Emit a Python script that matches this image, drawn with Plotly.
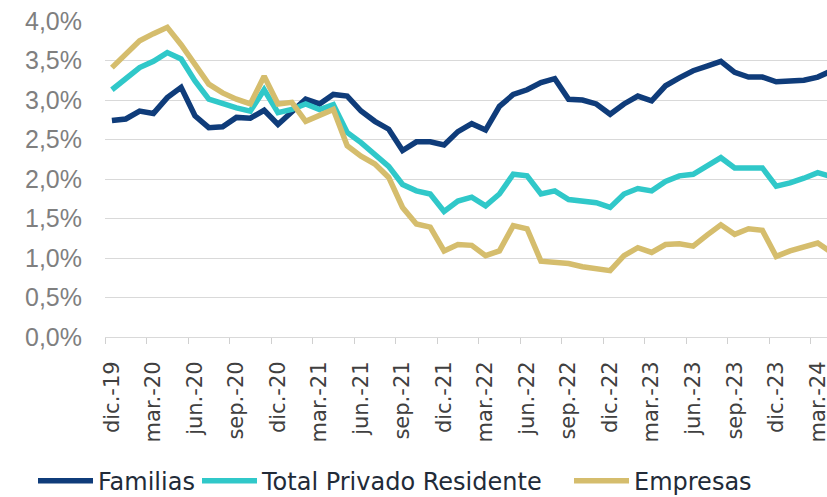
import plotly.graph_objects as go

months = ["dic.-19", "ene.-20", "feb.-20", "mar.-20", "abr.-20", "may.-20", "jun.-20", "jul.-20",
          "ago.-20", "sep.-20", "oct.-20", "nov.-20", "dic.-20", "ene.-21", "feb.-21", "mar.-21",
          "abr.-21", "may.-21", "jun.-21", "jul.-21", "ago.-21", "sep.-21", "oct.-21", "nov.-21",
          "dic.-21", "ene.-22", "feb.-22", "mar.-22", "abr.-22", "may.-22", "jun.-22", "jul.-22",
          "ago.-22", "sep.-22", "oct.-22", "nov.-22", "dic.-22", "ene.-23", "feb.-23", "mar.-23",
          "abr.-23", "may.-23", "jun.-23", "jul.-23", "ago.-23", "sep.-23", "oct.-23", "nov.-23",
          "dic.-23", "ene.-24", "feb.-24", "mar.-24", "abr.-24"]

familias = [2.74, 2.76, 2.86, 2.83, 3.03, 3.16, 2.80, 2.65, 2.66, 2.78, 2.77, 2.87, 2.69,
            2.86, 3.01, 2.95, 3.07, 3.05, 2.86, 2.73, 2.63, 2.36, 2.47, 2.47, 2.43, 2.60,
            2.70, 2.62, 2.92, 3.07, 3.13, 3.22, 3.27, 3.01, 3.00, 2.95, 2.82, 2.95, 3.05,
            2.99, 3.18, 3.28, 3.37, 3.43, 3.49, 3.35, 3.29, 3.29, 3.23, 3.24, 3.25, 3.29, 3.37]

total_privado = [3.13, 3.26, 3.41, 3.49, 3.60, 3.52, 3.24, 3.01, 2.95, 2.90, 2.86, 3.13, 2.84,
                 2.88, 2.95, 2.88, 2.94, 2.59, 2.46, 2.31, 2.16, 1.93, 1.85, 1.81, 1.59, 1.72,
                 1.77, 1.66, 1.81, 2.06, 2.04, 1.81, 1.85, 1.74, 1.72, 1.70, 1.64, 1.81, 1.88,
                 1.85, 1.97, 2.04, 2.06, 2.16, 2.27, 2.14, 2.14, 2.14, 1.91, 1.95, 2.01, 2.08, 2.03]

empresas = [3.41, 3.58, 3.75, 3.84, 3.92, 3.70, 3.45, 3.20, 3.09, 3.01, 2.95, 3.30, 2.95,
            2.97, 2.73, 2.80, 2.88, 2.42, 2.29, 2.19, 2.02, 1.64, 1.43, 1.39, 1.09, 1.17,
            1.16, 1.03, 1.09, 1.41, 1.37, 0.96, 0.95, 0.93, 0.89, 0.86, 0.84, 1.03, 1.13,
            1.07, 1.17, 1.18, 1.15, 1.29, 1.42, 1.30, 1.37, 1.35, 1.02, 1.09, 1.14, 1.19, 1.07]

y_tick_vals = [0.0, 0.5, 1.0, 1.5, 2.0, 2.5, 3.0, 3.5, 4.0]
y_tick_text = ["0,0%", "0,5%", "1,0%", "1,5%", "2,0%", "2,5%", "3,0%", "3,5%", "4,0%"]
x_tick_labels = months[::3]

series_names = ["Familias", "Total Privado Residente", "Empresas"]
colors = ["#0F3C7A", "#30C8C9", "#D5BD6D"]

x_range = [-0.5, 51.67]
boundary_ticks = [i - 0.5 for i in range(0, 54, 3)]

fig = go.Figure()
legend_ids = ["legend", "legend2", "legend3"]
for name, vals, col, lg in zip(series_names, [familias, total_privado, empresas], colors, legend_ids):
    fig.add_trace(go.Scatter(
        x=months, y=vals, name=name, mode="lines",
        line=dict(color=col, width=5.5),
        legend=lg,
    ))

# invisible helper trace so the boundary-tick axis is drawn
fig.add_trace(go.Scatter(x=[boundary_ticks[0]], y=[None], xaxis="x2", yaxis="y",
                         mode="lines", showlegend=False, hoverinfo="skip"))

legend_font = dict(family="DejaVu Sans", size=24, color="#222b38")
common_legend = dict(xref="container", yref="container", y=0.032, yanchor="middle",
                     xanchor="left", orientation="h", itemwidth=55,
                     font=legend_font, bgcolor="rgba(0,0,0,0)", borderwidth=0)

fig.update_layout(
    width=827, height=497,
    margin=dict(l=105, r=0, t=21, b=160),
    paper_bgcolor="white", plot_bgcolor="white",
    showlegend=True,
    legend=dict(x=33 / 827, **common_legend),
    legend2=dict(x=197 / 827, **common_legend),
    legend3=dict(x=569 / 827, **common_legend),
    xaxis=dict(
        type="category", range=x_range, automargin=False,
        tickmode="array", tickvals=x_tick_labels, ticktext=x_tick_labels,
        tickangle=-90, ticks="", showgrid=False,
        showline=True, linecolor="#d9d9d9", linewidth=1,
        tickfont=dict(family="DejaVu Sans", size=21, color="#404040"),
        ticklabelstandoff=15,
    ),
    xaxis2=dict(
        overlaying="x", anchor="y", range=x_range, automargin=False,
        tickmode="array", tickvals=boundary_ticks, ticks="outside",
        ticklen=6, tickcolor="#d0d0d0", tickwidth=1,
        showticklabels=False, showgrid=False, showline=False, zeroline=False,
    ),
    yaxis=dict(
        range=[0, 4.0], tickmode="array", tickvals=y_tick_vals, ticktext=y_tick_text,
        automargin=False,
        showgrid=True, gridcolor="#d9d9d9", gridwidth=1.3, zeroline=False,
        tickfont=dict(family="Liberation Sans", size=25, color="#7f7f7f"),
        ticklabelstandoff=22,
    ),
)

fig.write_html(
    "out.html",
    config={"displayModeBar": False},
    post_script="document.body.style.margin='0';document.body.style.overflow='hidden';",
)
